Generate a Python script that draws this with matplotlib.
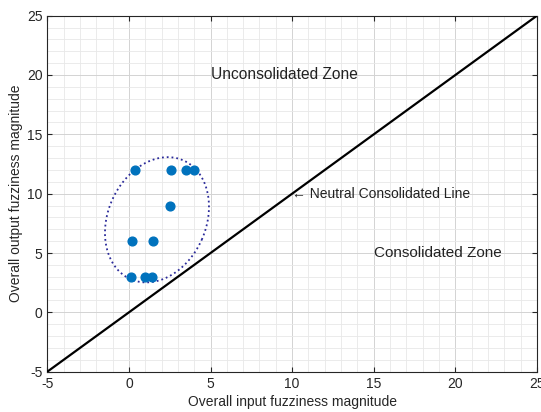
import matplotlib.pyplot as plt
import numpy as np

# points
x_in = [0.4, 2.6, 3.5, 4.0, 2.5, 0.2, 1.5, 0.1, 1.0, 1.4]
y_out = [12, 12, 12, 12, 9, 6, 6, 3, 3, 3]

line_x = [-5, 25]
line_y = [-5, 25]

plt.rcParams['font.family'] = ['Liberation Sans', 'DejaVu Sans']
plt.rcParams['axes.unicode_minus'] = False

fig = plt.figure(figsize=(5.41, 4.12), dpi=100)
ax = fig.add_axes([0.0874, 0.0978, 0.9052, 0.8642])

ax.plot(line_x, line_y, color='black', lw=1.6, zorder=3)
ax.plot(x_in, y_out, 'o', color='#0072BD', ms=6.3, mec='#0072BD', zorder=4)

# tilted ellipse around the cluster, built in pixel units then scaled to data
cx, cy = 1.72, 7.8
p, q, phi = 65, 49, np.radians(24)
sx, sy = 16.32, 11.87
t = np.linspace(0, 2 * np.pi, 300)
u = q * np.cos(t)
v = p * np.sin(t)
ex = cx + (u * np.cos(phi) + v * np.sin(phi)) / sx
ey = cy + (-u * np.sin(phi) + v * np.cos(phi)) / sy
ax.plot(ex, ey, ':', color='#2b2b9a', lw=1.3, zorder=3)

ax.text(5, 20, 'Unconsolidated Zone', fontsize=11.2, va='center', color='#222222')
ax.text(15, 5, 'Consolidated Zone', fontsize=11, va='center', color='#222222')
ax.text(10, 10, '\u2190 Neutral Consolidated Line', fontsize=10, va='center', color='#222222')

ax.set_xlim(-5, 25)
ax.set_ylim(-5, 25)
ax.set_xticks(np.arange(-5, 26, 5))
ax.set_yticks(np.arange(-5, 26, 5))
ax.set_xticks(np.arange(-5, 26, 1), minor=True)
ax.set_yticks(np.arange(-5, 26, 1), minor=True)
ax.grid(which='major', color='#d3d3d3', lw=0.7)
ax.grid(which='minor', color='#e8e8e8', lw=0.6)
ax.set_axisbelow(True)
ax.tick_params(which='both', direction='in', top=True, right=True,
               labelsize=10, colors='#262626')
ax.tick_params(which='major', length=3.5)
ax.tick_params(which='minor', length=0)
for s in ax.spines.values():
    s.set_color('#262626')
    s.set_linewidth(0.8)

ax.set_xlabel('Overall input fuzziness magnitude', fontsize=10, color='#262626', labelpad=3)
ax.set_ylabel('Overall output fuzziness magnitude', fontsize=10, color='#262626', labelpad=3)

fig.savefig('out.png', dpi=100)
